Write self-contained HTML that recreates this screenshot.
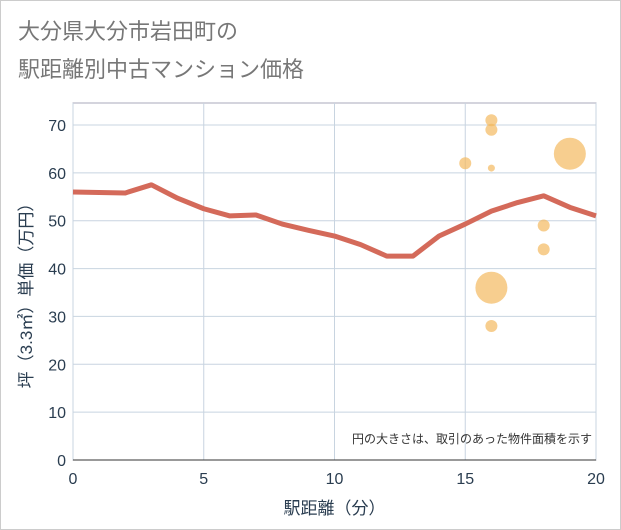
<!DOCTYPE html>
<html><head><meta charset="utf-8"><style>
body{margin:0;background:#fff;font-family:"Liberation Sans","Noto Sans CJK JP",sans-serif;}
#wrap{position:relative;width:619px;height:528px;border:1px solid #ccc;background:#fff;}
.title{position:absolute;left:17px;font-size:22px;color:#777;line-height:1;}
</style></head><body>
<div id="wrap">
<div class="title" style="top:20px">大分県大分市岩田町の</div>
<div class="title" style="top:58px">駅距離別中古マンション価格</div>
<svg id="chart" width="621" height="530" style="position:absolute;left:-1px;top:-1px"></svg>
</div>
<script>
const xTicks=[0,5,10,15,20];
const yTicks=[0,10,20,30,40,50,60,70];
const lineX=[0,1,2,3,4,5,6,7,8,9,10,11,12,13,14,15,16,17,18,19,20];
const lineY=[56,55.9,55.8,57.5,54.7,52.5,51,51.2,49.3,48,46.8,45,42.6,42.6,46.8,49.3,52,53.8,55.2,52.8,51];
const bubX=[16,16,15,16,19,18,18,16,16];
const bubY=[71,69,62,61,64,49,44,36,28];
const bubR=[6,6,6,3.5,16,6,6,16,6];
const L=73,R=596,T=103,B=460;
const sx=v=>L+(R-L)*v/20, sy=v=>B-(B-125)*v/70;
const svg=document.getElementById('chart');const NS='http://www.w3.org/2000/svg';
function mk(t,a,p){const e=document.createElementNS(NS,t);for(const k in a)e.setAttribute(k,a[k]);(p||svg).appendChild(e);return e;}
const bg=mk('rect',{x:L,y:T,width:R-L,height:B-T,fill:'#fff',stroke:'#aab',"stroke-width":1});


yTicks.forEach(v=>{const g=mk('line',{x1:L,x2:R,y1:sy(v),y2:sy(v),stroke:'#c8d4e0'});


const t=mk('text',{x:L-7,y:sy(v)+6,'text-anchor':'end','font-size':16,fill:'#2a3d50'});t.textContent=v;

});
xTicks.forEach(v=>{const g=mk('line',{x1:sx(v),x2:sx(v),y1:T,y2:B,stroke:'#c8d4e0'});


const t=mk('text',{x:sx(v),y:B+24,'text-anchor':'middle','font-size':16,fill:'#2a3d50'});t.textContent=v;

});
const ax=mk('line',{x1:L,x2:R,y1:B,y2:B,stroke:'#333'});


const pl=mk('polyline',{points:lineX.map((x,i)=>sx(x)+','+sy(lineY[i])).join(' '),fill:'none',stroke:'#d46a5a','stroke-width':5,'stroke-linejoin':'round'});


bubX.forEach((x,i)=>{const c=mk('circle',{cx:sx(x),cy:sy(bubY[i]),r:bubR[i],fill:'#f3b95f','fill-opacity':0.7});

});
const n=mk('text',{x:R-4,y:443,'text-anchor':'end','font-size':12,fill:'#333'});n.textContent='円の大きさは、取引のあった物件面積を示す';


const xt=mk('text',{x:(L+R)/2,y:514,'text-anchor':'middle','font-size':17,fill:'#2a3d50'});xt.textContent='駅距離（分）';


const yt=mk('text',{x:0,y:0,'text-anchor':'middle','font-size':17,fill:'#2a3d50',transform:`translate(32,${(T+B)/2+10}) rotate(-90)`});yt.textContent='坪（3.3㎡）単価（万円）';


</script>
</body></html>
